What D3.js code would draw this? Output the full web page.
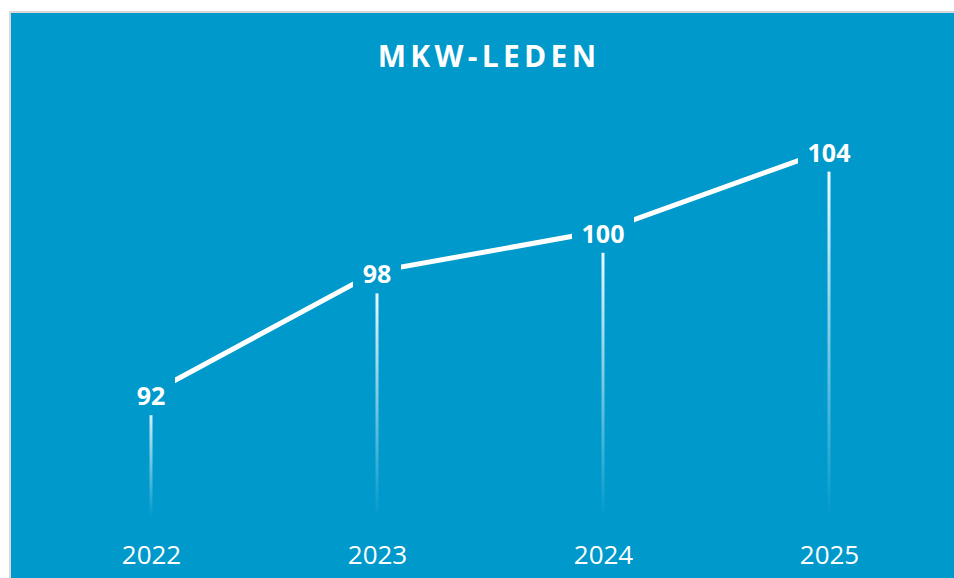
<!DOCTYPE html>
<html>
<head>
<meta charset="utf-8">
<script src="https://cdn.jsdelivr.net/npm/d3@7"></script>
<style>
  html, body { margin: 0; padding: 0; background: #ffffff; }
  svg { display: block; }
</style>
</head>
<body>
<svg id="chart" width="954" height="578"></svg>
<script>
const title = "MKW-LEDEN";
const categories = ["2022", "2023", "2024", "2025"];
const members = [92, 98, 100, 104];
const yDomain = [86, 106];

const W = 954, H = 578;
const bg = "#0099CB";
const svg = d3.select("#chart");

// panel with light border
svg.append("rect").attr("x", 10).attr("y", 12).attr("width", W).attr("height", H)
  .attr("fill", bg).attr("stroke", "#d9d9d9").attr("stroke-width", 2);

const x = d3.scalePoint().domain(categories).range([151, 829]);
const y = d3.scaleLinear().domain(yDomain).range([515, 109]);

// gradient for drop lines
const defs = svg.append("defs");
const grad = defs.append("linearGradient").attr("id", "dropGrad")
  .attr("x1", 0).attr("y1", 0).attr("x2", 0).attr("y2", 1);
grad.append("stop").attr("offset", "0%").attr("stop-color", "#ffffff").attr("stop-opacity", 1);
grad.append("stop").attr("offset", "100%").attr("stop-color", "#ffffff").attr("stop-opacity", 0);

const data = categories.map((c, i) => ({ c, v: members[i] }));

// drop lines
svg.append("g").selectAll("rect").data(data).join("rect")
  .attr("x", d => x(d.c) - 1.5)
  .attr("y", d => y(d.v))
  .attr("width", 3)
  .attr("height", d => y(yDomain[0]) + 2 - y(d.v))
  .attr("fill", "url(#dropGrad)");

// line
svg.append("path").datum(data)
  .attr("fill", "none").attr("stroke", "#ffffff").attr("stroke-width", 5)
  .attr("d", d3.line().x(d => x(d.c)).y(d => y(d.v)));

// labels with background
const lab = svg.append("g").selectAll("g").data(data).join("g")
  .attr("transform", d => `translate(${x(d.c)},${y(d.v)})`);
lab.append("rect")
  .attr("x", d => -(String(d.v).length * 14 / 2 + 10))
  .attr("y", -22)
  .attr("width", d => String(d.v).length * 14 + 20)
  .attr("height", 44)
  .attr("fill", bg);
lab.append("text")
  .attr("text-anchor", "middle")
  .attr("y", 12)
  .attr("fill", "#ffffff")
  .attr("font-family", "'Open Sans', sans-serif")
  .attr("font-weight", "bold")
  .attr("font-size", 25)
  .text(d => d.v);

// x axis labels
const xAxis = d3.axisBottom(x).tickSize(0).tickPadding(0);
const gx = svg.append("g").attr("transform", "translate(0,545)").call(xAxis);
gx.select(".domain").remove();
gx.selectAll("text")
  .attr("fill", "#ffffff")
  .attr("font-family", "'Open Sans', sans-serif")
  .attr("font-size", 26)
  .attr("dy", 0).attr("y", 19);

// title
svg.append("text")
  .attr("x", 489).attr("y", 67)
  .attr("text-anchor", "middle")
  .attr("fill", "#ffffff")
  .attr("font-family", "'Open Sans', sans-serif")
  .attr("font-weight", "bold")
  .attr("font-size", 30)
  .attr("letter-spacing", 4.3)
  .text(title);
</script>
</body>
</html>
